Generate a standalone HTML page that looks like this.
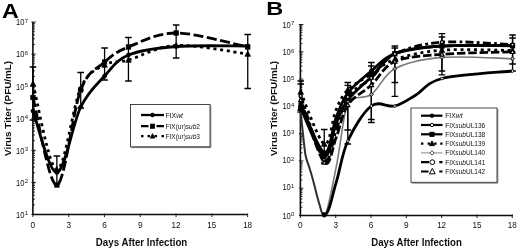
<!DOCTYPE html>
<html><head><meta charset="utf-8"><title>Virus Titer</title>
<style>
html,body{margin:0;padding:0;background:#fff;}
svg{display:block;font-family:"Liberation Sans",Arial,sans-serif;fill:#111;}
.b{font-weight:bold}
.i{font-style:italic}
</style></head><body>
<svg width="520" height="249" viewBox="0 0 520 249">
<defs><filter id="soft" x="0" y="0" width="520" height="249" filterUnits="userSpaceOnUse"><feGaussianBlur stdDeviation="0.45"/></filter></defs>
<rect x="-5" y="-5" width="530" height="259" fill="#fff"/>
<g filter="url(#soft)">
<text class="b" x="2" y="18" font-size="20" fill="#000" textLength="16.8" lengthAdjust="spacingAndGlyphs">A</text>
<path d="M32.9 22 V214.5 H247.7" stroke="#111" stroke-width="1.6" fill="none"/>
<path d="M31.4 214.5H35.9M32.9 204.84H34.9M32.9 199.19H34.9M32.9 195.18H34.9M32.9 192.07H34.9M32.9 189.53H34.9M32.9 187.39H34.9M32.9 185.53H34.9M32.9 183.88H34.9M31.4 182.42H35.9M32.9 172.76H34.9M32.9 167.11H34.9M32.9 163.1H34.9M32.9 159.99H34.9M32.9 157.45H34.9M32.9 155.3H34.9M32.9 153.44H34.9M32.9 151.8H34.9M31.4 150.33H35.9M32.9 140.68H34.9M32.9 135.03H34.9M32.9 131.02H34.9M32.9 127.91H34.9M32.9 125.37H34.9M32.9 123.22H34.9M32.9 121.36H34.9M32.9 119.72H34.9M31.4 118.25H35.9M32.9 108.59H34.9M32.9 102.94H34.9M32.9 98.93H34.9M32.9 95.82H34.9M32.9 93.28H34.9M32.9 91.14H34.9M32.9 89.28H34.9M32.9 87.63H34.9M31.4 86.17H35.9M32.9 76.51H34.9M32.9 70.86H34.9M32.9 66.85H34.9M32.9 63.74H34.9M32.9 61.2H34.9M32.9 59.05H34.9M32.9 57.19H34.9M32.9 55.55H34.9M31.4 54.08H35.9M32.9 44.43H34.9M32.9 38.78H34.9M32.9 34.77H34.9M32.9 31.66H34.9M32.9 29.12H34.9M32.9 26.97H34.9M32.9 25.11H34.9M32.9 23.47H34.9M31.4 22H35.9M32.9 213.5V217.1M68.69 213.5V217.1M104.48 213.5V217.1M140.27 213.5V217.1M176.06 213.5V217.1M211.85 213.5V217.1M247.64 213.5V217.1" stroke="#111" stroke-width="0.9" fill="none"/>
<text x="16.1" y="217.9" font-size="8.7" textLength="8.4" lengthAdjust="spacingAndGlyphs">10</text>
<text x="24.8" y="215.4" font-size="6" text-anchor="start">1</text>
<text x="16.1" y="185.82" font-size="8.7" textLength="8.4" lengthAdjust="spacingAndGlyphs">10</text>
<text x="24.8" y="183.32" font-size="6" text-anchor="start">2</text>
<text x="16.1" y="153.73" font-size="8.7" textLength="8.4" lengthAdjust="spacingAndGlyphs">10</text>
<text x="24.8" y="151.23" font-size="6" text-anchor="start">3</text>
<text x="16.1" y="121.65" font-size="8.7" textLength="8.4" lengthAdjust="spacingAndGlyphs">10</text>
<text x="24.8" y="119.15" font-size="6" text-anchor="start">4</text>
<text x="16.1" y="89.57" font-size="8.7" textLength="8.4" lengthAdjust="spacingAndGlyphs">10</text>
<text x="24.8" y="87.07" font-size="6" text-anchor="start">5</text>
<text x="16.1" y="57.48" font-size="8.7" textLength="8.4" lengthAdjust="spacingAndGlyphs">10</text>
<text x="24.8" y="54.98" font-size="6" text-anchor="start">6</text>
<text x="16.1" y="25.4" font-size="8.7" textLength="8.4" lengthAdjust="spacingAndGlyphs">10</text>
<text x="24.8" y="22.9" font-size="6" text-anchor="start">7</text>
<text x="32.9" y="228.3" font-size="9.2" text-anchor="middle" textLength="4.6" lengthAdjust="spacingAndGlyphs">0</text>
<text x="68.69" y="228.3" font-size="9.2" text-anchor="middle" textLength="4.6" lengthAdjust="spacingAndGlyphs">3</text>
<text x="104.48" y="228.3" font-size="9.2" text-anchor="middle" textLength="4.6" lengthAdjust="spacingAndGlyphs">6</text>
<text x="140.27" y="228.3" font-size="9.2" text-anchor="middle" textLength="4.6" lengthAdjust="spacingAndGlyphs">9</text>
<text x="176.06" y="228.3" font-size="9.2" text-anchor="middle" textLength="9" lengthAdjust="spacingAndGlyphs">12</text>
<text x="211.85" y="228.3" font-size="9.2" text-anchor="middle" textLength="9" lengthAdjust="spacingAndGlyphs">15</text>
<text x="247.64" y="228.3" font-size="9.2" text-anchor="middle" textLength="9" lengthAdjust="spacingAndGlyphs">18</text>
<text class="b" x="95.8" y="246.3" font-size="10.5" textLength="91.5" lengthAdjust="spacingAndGlyphs">Days After Infection</text>
<text class="b" transform="translate(10.7 108.4) rotate(-90)" font-size="9.9" text-anchor="middle">Virus Titer (PFU/mL)</text>
<path d="M33 67 V120 M29.7 67 H36.3 M29.7 120 H36.3" stroke="#000" stroke-width="1.3" fill="none"/>
<path d="M56.86 156 V184 M53.56 156 H60.16 M53.56 184 H60.16" stroke="#000" stroke-width="1.3" fill="none"/>
<path d="M80.72 72.5 V108 M77.42 72.5 H84.02 M77.42 108 H84.02" stroke="#000" stroke-width="1.3" fill="none"/>
<path d="M104.58 48 V80 M101.28 48 H107.88 M101.28 80 H107.88" stroke="#000" stroke-width="1.3" fill="none"/>
<path d="M128.44 37.5 V81 M125.14 37.5 H131.74 M125.14 81 H131.74" stroke="#000" stroke-width="1.3" fill="none"/>
<path d="M176.16 25 V58 M172.86 25 H179.46 M172.86 58 H179.46" stroke="#000" stroke-width="1.3" fill="none"/>
<path d="M247.74 34.5 V88.5 M244.44 34.5 H251.04 M244.44 88.5 H251.04" stroke="#000" stroke-width="1.3" fill="none"/>
<path d="M33 111 C36.98 121.25 48.91 173.17 56.86 172.5 C64.81 171.83 72.77 123.08 80.72 107 C88.67 90.92 96.63 84.67 104.58 76 C112.53 67.33 116.51 59.92 128.44 55 C140.37 50.08 156.28 48 176.16 46.5 C196.04 45 235.81 46.08 247.74 46" stroke="#000" stroke-width="2.8" fill="none" stroke-linejoin="round"/>
<path d="M33 97.5 C36.98 112.08 48.91 186.25 56.86 185 C64.81 183.75 72.77 110.5 80.72 90 C88.67 69.5 96.63 69.17 104.58 62 C112.53 54.83 116.51 51.83 128.44 47 C140.37 42.17 156.28 33 176.16 33 C196.04 33 235.81 44.67 247.74 47" stroke="#000" stroke-width="2.8" fill="none" stroke-dasharray="10 3.5"/>
<path d="M33 84 C36.98 98.25 48.91 168.83 56.86 169.5 C64.81 170.17 72.77 105.42 80.72 88 C88.67 70.58 96.63 69.67 104.58 65 C112.53 60.33 116.51 63.25 128.44 60 C140.37 56.75 156.28 46.5 176.16 45.5 C196.04 44.5 235.81 52.58 247.74 54" stroke="#000" stroke-width="2.8" fill="none" stroke-dasharray="3 3.7"/>
<circle cx="33" cy="111" r="2" fill="#000" stroke="#000" stroke-width="0.8"/>
<circle cx="56.86" cy="172.5" r="2" fill="#000" stroke="#000" stroke-width="0.8"/>
<circle cx="80.72" cy="107" r="2" fill="#000" stroke="#000" stroke-width="0.8"/>
<circle cx="104.58" cy="76" r="2" fill="#000" stroke="#000" stroke-width="0.8"/>
<circle cx="128.44" cy="55" r="2" fill="#000" stroke="#000" stroke-width="0.8"/>
<circle cx="176.16" cy="46.5" r="2" fill="#000" stroke="#000" stroke-width="0.8"/>
<circle cx="247.74" cy="46" r="2" fill="#000" stroke="#000" stroke-width="0.8"/>
<rect x="30.8" y="95.3" width="4.4" height="4.4" fill="#000" stroke="#000" stroke-width="0.8"/>
<rect x="54.66" y="182.8" width="4.4" height="4.4" fill="#000" stroke="#000" stroke-width="0.8"/>
<rect x="78.52" y="87.8" width="4.4" height="4.4" fill="#000" stroke="#000" stroke-width="0.8"/>
<rect x="102.38" y="59.8" width="4.4" height="4.4" fill="#000" stroke="#000" stroke-width="0.8"/>
<rect x="126.24" y="44.8" width="4.4" height="4.4" fill="#000" stroke="#000" stroke-width="0.8"/>
<rect x="173.96" y="30.8" width="4.4" height="4.4" fill="#000" stroke="#000" stroke-width="0.8"/>
<rect x="245.54" y="44.8" width="4.4" height="4.4" fill="#000" stroke="#000" stroke-width="0.8"/>
<path d="M33 81 L35.75 86.25 L30.25 86.25 Z" fill="#000" stroke="#000" stroke-width="0.8"/>
<path d="M56.86 166.5 L59.61 171.75 L54.11 171.75 Z" fill="#000" stroke="#000" stroke-width="0.8"/>
<path d="M80.72 85 L83.47 90.25 L77.97 90.25 Z" fill="#000" stroke="#000" stroke-width="0.8"/>
<path d="M104.58 62 L107.33 67.25 L101.83 67.25 Z" fill="#000" stroke="#000" stroke-width="0.8"/>
<path d="M128.44 57 L131.19 62.25 L125.69 62.25 Z" fill="#000" stroke="#000" stroke-width="0.8"/>
<path d="M176.16 42.5 L178.91 47.75 L173.41 47.75 Z" fill="#000" stroke="#000" stroke-width="0.8"/>
<path d="M247.74 51 L250.49 56.25 L244.99 56.25 Z" fill="#000" stroke="#000" stroke-width="0.8"/>
<path d="M131.3 147.6 H210.8 V105.5" fill="none" stroke="#777" stroke-width="1"/>
<rect x="130.5" y="104.5" width="79.5" height="42.3" fill="#fff" stroke="#333" stroke-width="0.9"/>
<path d="M141 115 H164" stroke="#000" stroke-width="2.3" fill="none"/>
<circle cx="152.5" cy="115" r="1.9" fill="#000" stroke="#000" stroke-width="0.8"/>
<text x="165.5" y="117.5" font-size="7" textLength="17.5" lengthAdjust="spacingAndGlyphs">FIX<tspan class="i">wt</tspan></text>
<path d="M141 126.2 H164" stroke="#000" stroke-width="2.3" stroke-dasharray="7.5 8 7.5 8" fill="none"/>
<rect x="150.4" y="124.1" width="4.2" height="4.2" fill="#000" stroke="#000" stroke-width="0.8"/>
<text x="165.5" y="128.7" font-size="7" textLength="34.5" lengthAdjust="spacingAndGlyphs">FIX(ur)<tspan class="i">sub</tspan>2</text>
<path d="M141 136.2 H164" stroke="#000" stroke-width="2.3" stroke-dasharray="2.5 4 2.5 4.5 2.5 4.5 2.5 9" fill="none"/>
<path d="M152.5 133.68 L154.81 138.09 L150.19 138.09 Z" fill="#000" stroke="#000" stroke-width="0.8"/>
<text x="165.5" y="138.7" font-size="7" textLength="34.5" lengthAdjust="spacingAndGlyphs">FIX(ur)<tspan class="i">sub</tspan>3</text>
<text class="b" x="266.3" y="15" font-size="19" fill="#000" textLength="17" lengthAdjust="spacingAndGlyphs">B</text>
<path d="M300.4 24.5 V215.5 H512.8" stroke="#111" stroke-width="1.6" fill="none"/>
<path d="M298.9 215.5H303.4M300.4 207.29H302.4M300.4 202.48H302.4M300.4 199.07H302.4M300.4 196.43H302.4M300.4 194.27H302.4M300.4 192.44H302.4M300.4 190.86H302.4M300.4 189.46H302.4M298.9 188.21H303.4M300.4 180H302.4M300.4 175.2H302.4M300.4 171.79H302.4M300.4 169.14H302.4M300.4 166.98H302.4M300.4 165.16H302.4M300.4 163.57H302.4M300.4 162.18H302.4M298.9 160.93H303.4M300.4 152.71H302.4M300.4 147.91H302.4M300.4 144.5H302.4M300.4 141.86H302.4M300.4 139.7H302.4M300.4 137.87H302.4M300.4 136.29H302.4M300.4 134.89H302.4M298.9 133.64H303.4M300.4 125.43H302.4M300.4 120.62H302.4M300.4 117.22H302.4M300.4 114.57H302.4M300.4 112.41H302.4M300.4 110.58H302.4M300.4 109H302.4M300.4 107.61H302.4M298.9 106.36H303.4M300.4 98.14H302.4M300.4 93.34H302.4M300.4 89.93H302.4M300.4 87.29H302.4M300.4 85.12H302.4M300.4 83.3H302.4M300.4 81.72H302.4M300.4 80.32H302.4M298.9 79.07H303.4M300.4 70.86H302.4M300.4 66.05H302.4M300.4 62.64H302.4M300.4 60H302.4M300.4 57.84H302.4M300.4 56.01H302.4M300.4 54.43H302.4M300.4 53.03H302.4M298.9 51.79H303.4M300.4 43.57H302.4M300.4 38.77H302.4M300.4 35.36H302.4M300.4 32.71H302.4M300.4 30.55H302.4M300.4 28.73H302.4M300.4 27.14H302.4M300.4 25.75H302.4M298.9 24.5H303.4M300.4 214.5V218.1M335.71 214.5V218.1M371.02 214.5V218.1M406.33 214.5V218.1M441.64 214.5V218.1M476.95 214.5V218.1M512.26 214.5V218.1" stroke="#111" stroke-width="0.9" fill="none"/>
<text x="282.4" y="218.6" font-size="8.7" textLength="8.4" lengthAdjust="spacingAndGlyphs">10</text>
<text x="291.1" y="216.1" font-size="6" text-anchor="start">0</text>
<text x="282.4" y="190.11" font-size="8.7" textLength="8.4" lengthAdjust="spacingAndGlyphs">10</text>
<text x="291.1" y="187.61" font-size="6" text-anchor="start">1</text>
<text x="282.4" y="163.33" font-size="8.7" textLength="8.4" lengthAdjust="spacingAndGlyphs">10</text>
<text x="291.1" y="160.83" font-size="6" text-anchor="start">2</text>
<text x="282.4" y="136.34" font-size="8.7" textLength="8.4" lengthAdjust="spacingAndGlyphs">10</text>
<text x="291.1" y="133.84" font-size="6" text-anchor="start">3</text>
<text x="282.4" y="109.46" font-size="8.7" textLength="8.4" lengthAdjust="spacingAndGlyphs">10</text>
<text x="291.1" y="106.96" font-size="6" text-anchor="start">4</text>
<text x="282.4" y="82.47" font-size="8.7" textLength="8.4" lengthAdjust="spacingAndGlyphs">10</text>
<text x="291.1" y="79.97" font-size="6" text-anchor="start">5</text>
<text x="282.4" y="55.19" font-size="8.7" textLength="8.4" lengthAdjust="spacingAndGlyphs">10</text>
<text x="291.1" y="52.69" font-size="6" text-anchor="start">6</text>
<text x="282.4" y="27.9" font-size="8.7" textLength="8.4" lengthAdjust="spacingAndGlyphs">10</text>
<text x="291.1" y="25.4" font-size="6" text-anchor="start">7</text>
<text x="300.4" y="227.8" font-size="9.2" text-anchor="middle" textLength="4.6" lengthAdjust="spacingAndGlyphs">0</text>
<text x="335.71" y="227.8" font-size="9.2" text-anchor="middle" textLength="4.6" lengthAdjust="spacingAndGlyphs">3</text>
<text x="371.02" y="227.8" font-size="9.2" text-anchor="middle" textLength="4.6" lengthAdjust="spacingAndGlyphs">6</text>
<text x="406.33" y="227.8" font-size="9.2" text-anchor="middle" textLength="4.6" lengthAdjust="spacingAndGlyphs">9</text>
<text x="441.64" y="227.8" font-size="9.2" text-anchor="middle" textLength="9" lengthAdjust="spacingAndGlyphs">12</text>
<text x="476.95" y="227.8" font-size="9.2" text-anchor="middle" textLength="9" lengthAdjust="spacingAndGlyphs">15</text>
<text x="512.26" y="227.8" font-size="9.2" text-anchor="middle" textLength="9" lengthAdjust="spacingAndGlyphs">18</text>
<text class="b" x="371.3" y="246.2" font-size="10.5" textLength="90.5" lengthAdjust="spacingAndGlyphs">Days After Infection</text>
<text class="b" transform="translate(276.7 108.5) rotate(-90)" font-size="9.9" text-anchor="middle">Virus Titer (PFU/mL)</text>
<path d="M300.7 81 V112 M297.4 81 H304 M297.4 112 H304" stroke="#000" stroke-width="1.3" fill="none"/>
<path d="M300.7 84 V110 M297.4 84 H304 M297.4 110 H304" stroke="#000" stroke-width="1.3" fill="none"/>
<path d="M324.24 129.5 V163 M320.94 129.5 H327.54 M320.94 163 H327.54" stroke="#000" stroke-width="1.3" fill="none"/>
<path d="M347.78 82.5 V144 M344.48 82.5 H351.08 M344.48 144 H351.08" stroke="#000" stroke-width="1.3" fill="none"/>
<path d="M347.78 85.4 V130 M344.48 85.4 H351.08 M344.48 130 H351.08" stroke="#000" stroke-width="1.3" fill="none"/>
<path d="M371.32 62.5 V119.5 M368.02 62.5 H374.62 M368.02 119.5 H374.62" stroke="#000" stroke-width="1.3" fill="none"/>
<path d="M371.32 66 V122.5 M368.02 66 H374.62 M368.02 122.5 H374.62" stroke="#000" stroke-width="1.3" fill="none"/>
<path d="M394.86 46 V82.5 M391.56 46 H398.16 M391.56 82.5 H398.16" stroke="#000" stroke-width="1.3" fill="none"/>
<path d="M394.86 48 V96.3 M391.56 48 H398.16 M391.56 96.3 H398.16" stroke="#000" stroke-width="1.3" fill="none"/>
<path d="M441.94 33.7 V71 M438.64 33.7 H445.24 M438.64 71 H445.24" stroke="#000" stroke-width="1.3" fill="none"/>
<path d="M441.94 37 V74.8 M438.64 37 H445.24 M438.64 74.8 H445.24" stroke="#000" stroke-width="1.3" fill="none"/>
<path d="M512.56 35 V71 M509.26 35 H515.86 M509.26 71 H515.86" stroke="#000" stroke-width="1.3" fill="none"/>
<path d="M512.56 38 V64 M509.26 38 H515.86 M509.26 64 H515.86" stroke="#000" stroke-width="1.3" fill="none"/>
<path d="M324.24 215 C327.44 215 332.09 186.83 336.01 168 C339.93 149.17 344.25 109.35 347.78 102 C351.31 94.65 363.47 100.04 371.32 94.5 C379.17 88.96 383.09 74.93 394.86 68.75 C406.63 62.57 422.32 59.07 441.94 57.4 C461.56 55.73 500.79 58.52 512.56 58.75" stroke="#7a7a7a" stroke-width="1.6" fill="none"/>
<path d="M300.7 112 C300.97 114.58 301.5 120.33 302.3 127.5 C303.1 134.67 304.3 148.25 305.5 155 C306.7 161.75 308.25 163.83 309.5 168 C310.75 172.17 311.33 173.92 313 180 C314.67 186.08 317.63 198.67 319.5 204.5 C321.37 210.33 321.24 214.5 324.24 215" stroke="#2e2e2e" stroke-width="2" fill="none"/>
<path d="M324.24 215 C329.24 215 332.09 195.33 336.01 183 C339.93 170.67 341.89 153.83 347.78 141 C353.66 128.17 363.47 111.83 371.32 106 C379.17 100.17 387.5 107.78 394.86 106 C402.22 104.22 407.65 99.88 415.5 95.3 C423.35 90.72 425.76 82.55 441.94 78.5 C458.12 74.45 500.79 72.25 512.56 71" stroke="#000" stroke-width="2.8" fill="none"/>
<path d="M300.7 108 C304.62 116 318.36 153.33 324.24 156 C330.12 158.67 332.09 133.33 336.01 124 C339.93 114.67 341.89 107.83 347.78 100 C353.66 92.17 363.47 84.7 371.32 77 C379.17 69.3 383.09 58.95 394.86 53.8 C406.63 48.65 422.32 47.43 441.94 46.1 C461.56 44.77 500.79 45.85 512.56 45.8" stroke="#000" stroke-width="2.8" fill="none"/>
<path d="M300.7 104 C304.62 112.08 318.36 150.17 324.24 152.5 C330.12 154.83 332.09 127.92 336.01 118 C339.93 108.08 341.89 100.83 347.78 93 C353.66 85.17 363.47 77.58 371.32 71 C379.17 64.42 383.09 57.67 394.86 53.5 C406.63 49.33 422.32 47.32 441.94 46 C461.56 44.68 500.79 45.67 512.56 45.6" stroke="#000" stroke-width="2.8" fill="none"/>
<path d="M300.7 92 C304.62 100.67 318.36 141 324.24 144 C330.12 147 332.09 119 336.01 110 C339.93 101 341.89 96 347.78 90 C353.66 84 363.47 79.08 371.32 74 C379.17 68.92 383.09 63.47 394.86 59.5 C406.63 55.53 422.32 51.7 441.94 50.2 C461.56 48.7 500.79 50.45 512.56 50.5" stroke="#000" stroke-width="2.8" fill="none" stroke-dasharray="3 3.7"/>
<path d="M300.7 96 C304.62 106.67 318.36 154.17 324.24 160 C330.12 165.83 332.09 141.5 336.01 131 C339.93 120.5 341.89 105.83 347.78 97 C353.66 88.17 363.47 85.17 371.32 78 C379.17 70.83 383.09 59.97 394.86 54 C406.63 48.03 422.32 43.77 441.94 42.2 C461.56 40.63 500.79 44.2 512.56 44.6" stroke="#000" stroke-width="2.8" fill="none" stroke-dasharray="8 3.2 2.8 3.2"/>
<path d="M300.7 100 C304.62 110.42 318.36 156.17 324.24 162.5 C330.12 168.83 332.09 147.58 336.01 138 C339.93 128.42 341.89 113.83 347.78 105 C353.66 96.17 363.47 92.25 371.32 85 C379.17 77.75 383.09 66.62 394.86 61.5 C406.63 56.38 422.32 55.92 441.94 54.3 C461.56 52.68 500.79 52.22 512.56 51.8" stroke="#000" stroke-width="2.8" fill="none" stroke-dasharray="8.5 2.8"/>
<circle cx="300.7" cy="104" r="2" fill="#000" stroke="#000" stroke-width="0.8"/>
<circle cx="324.24" cy="152.5" r="2" fill="#000" stroke="#000" stroke-width="0.8"/>
<circle cx="347.78" cy="93" r="2" fill="#000" stroke="#000" stroke-width="0.8"/>
<circle cx="371.32" cy="71" r="2" fill="#000" stroke="#000" stroke-width="0.8"/>
<circle cx="394.86" cy="53.5" r="2" fill="#000" stroke="#000" stroke-width="0.8"/>
<circle cx="441.94" cy="46" r="2" fill="#000" stroke="#000" stroke-width="0.8"/>
<circle cx="512.56" cy="45.6" r="2" fill="#000" stroke="#000" stroke-width="0.8"/>
<rect x="298.5" y="105.8" width="4.4" height="4.4" fill="#000" stroke="#000" stroke-width="0.8"/>
<rect x="322.04" y="153.8" width="4.4" height="4.4" fill="#000" stroke="#000" stroke-width="0.8"/>
<rect x="345.58" y="97.8" width="4.4" height="4.4" fill="#000" stroke="#000" stroke-width="0.8"/>
<rect x="369.12" y="74.8" width="4.4" height="4.4" fill="#000" stroke="#000" stroke-width="0.8"/>
<rect x="392.66" y="51.6" width="4.4" height="4.4" fill="#000" stroke="#000" stroke-width="0.8"/>
<rect x="439.74" y="43.9" width="4.4" height="4.4" fill="#000" stroke="#000" stroke-width="0.8"/>
<rect x="510.36" y="43.6" width="4.4" height="4.4" fill="#000" stroke="#000" stroke-width="0.8"/>
<path d="M300.7 89 L303.45 94.25 L297.95 94.25 Z" fill="#000" stroke="#000" stroke-width="0.8"/>
<path d="M324.24 141 L326.99 146.25 L321.49 146.25 Z" fill="#000" stroke="#000" stroke-width="0.8"/>
<path d="M347.78 87 L350.53 92.25 L345.03 92.25 Z" fill="#000" stroke="#000" stroke-width="0.8"/>
<path d="M371.32 71 L374.07 76.25 L368.57 76.25 Z" fill="#000" stroke="#000" stroke-width="0.8"/>
<path d="M394.86 56.5 L397.61 61.75 L392.11 61.75 Z" fill="#000" stroke="#000" stroke-width="0.8"/>
<path d="M441.94 47.2 L444.69 52.45 L439.19 52.45 Z" fill="#000" stroke="#000" stroke-width="0.8"/>
<path d="M512.56 47.5 L515.31 52.75 L509.81 52.75 Z" fill="#000" stroke="#000" stroke-width="0.8"/>
<circle cx="347.78" cy="141" r="1.3" fill="#fff" stroke="#000" stroke-width="0.8"/>
<circle cx="371.32" cy="106" r="1.3" fill="#fff" stroke="#000" stroke-width="0.8"/>
<circle cx="394.86" cy="106" r="1.3" fill="#fff" stroke="#000" stroke-width="0.8"/>
<circle cx="441.94" cy="78.5" r="1.3" fill="#fff" stroke="#000" stroke-width="0.8"/>
<circle cx="512.56" cy="71" r="1.3" fill="#fff" stroke="#000" stroke-width="0.8"/>
<path d="M347.78 99.96 L349.65 102 L347.78 104.04 L345.91 102 Z" fill="#aaa" stroke="#111" stroke-width="1"/>
<path d="M371.32 92.46 L373.19 94.5 L371.32 96.54 L369.45 94.5 Z" fill="#aaa" stroke="#111" stroke-width="1"/>
<path d="M394.86 66.71 L396.73 68.75 L394.86 70.79 L392.99 68.75 Z" fill="#aaa" stroke="#111" stroke-width="1"/>
<path d="M441.94 55.36 L443.81 57.4 L441.94 59.44 L440.07 57.4 Z" fill="#aaa" stroke="#111" stroke-width="1"/>
<path d="M512.56 56.71 L514.43 58.75 L512.56 60.79 L510.69 58.75 Z" fill="#aaa" stroke="#111" stroke-width="1"/>
<circle cx="300.7" cy="96" r="1.6" fill="#ddd" stroke="#000" stroke-width="1.3"/>
<circle cx="324.24" cy="160" r="1.6" fill="#ddd" stroke="#000" stroke-width="1.3"/>
<circle cx="347.78" cy="97" r="1.6" fill="#ddd" stroke="#000" stroke-width="1.3"/>
<circle cx="371.32" cy="78" r="1.6" fill="#ddd" stroke="#000" stroke-width="1.3"/>
<circle cx="394.86" cy="54" r="1.6" fill="#ddd" stroke="#000" stroke-width="1.3"/>
<circle cx="441.94" cy="42.2" r="1.6" fill="#ddd" stroke="#000" stroke-width="1.3"/>
<circle cx="512.56" cy="44.6" r="1.6" fill="#ddd" stroke="#000" stroke-width="1.3"/>
<path d="M300.7 97.72 L302.79 101.71 L298.61 101.71 Z" fill="#ddd" stroke="#000" stroke-width="1.2"/>
<path d="M324.24 160.22 L326.33 164.21 L322.15 164.21 Z" fill="#ddd" stroke="#000" stroke-width="1.2"/>
<path d="M347.78 102.72 L349.87 106.71 L345.69 106.71 Z" fill="#ddd" stroke="#000" stroke-width="1.2"/>
<path d="M371.32 82.72 L373.41 86.71 L369.23 86.71 Z" fill="#ddd" stroke="#000" stroke-width="1.2"/>
<path d="M394.86 59.22 L396.95 63.21 L392.77 63.21 Z" fill="#ddd" stroke="#000" stroke-width="1.2"/>
<path d="M441.94 52.02 L444.03 56.01 L439.85 56.01 Z" fill="#ddd" stroke="#000" stroke-width="1.2"/>
<path d="M512.56 49.52 L514.65 53.51 L510.47 53.51 Z" fill="#ddd" stroke="#000" stroke-width="1.2"/>
<circle cx="324.24" cy="214.8" r="2.3" fill="#000" stroke="#000" stroke-width="0.8"/>
<path d="M411.8 183.1 H497.8 V109" fill="none" stroke="#777" stroke-width="1"/>
<rect x="411" y="108" width="86" height="74.3" fill="#fff" stroke="#333" stroke-width="0.9"/>
<path d="M421 115.7 H442.5" stroke="#000" stroke-width="2.2" fill="none"/>
<circle cx="432" cy="115.7" r="1.8" fill="#000" stroke="#000" stroke-width="0.8"/>
<text x="445.2" y="118.2" font-size="7" textLength="17.5" lengthAdjust="spacingAndGlyphs">FIX<tspan class="i">wt</tspan></text>
<path d="M421 125 H442.5" stroke="#000" stroke-width="2.2" fill="none"/>
<circle cx="432" cy="125" r="1.7" fill="#fff" stroke="#000" stroke-width="1"/>
<text x="445.2" y="127.5" font-size="7" textLength="40" lengthAdjust="spacingAndGlyphs">FIX<tspan class="i">sub</tspan>UL136</text>
<path d="M421 134.3 H442.5" stroke="#000" stroke-width="2.2" fill="none"/>
<rect x="429.9" y="132.2" width="4.2" height="4.2" fill="#000" stroke="#000" stroke-width="0.8"/>
<text x="445.2" y="136.8" font-size="7" textLength="40" lengthAdjust="spacingAndGlyphs">FIX<tspan class="i">sub</tspan>UL138</text>
<path d="M421 143.6 H442.5" stroke="#000" stroke-width="2.2" stroke-dasharray="2.4 4.2 2.4 4.2 2.4 3.7 2.2 9" fill="none"/>
<path d="M432 140.84 L434.53 145.67 L429.47 145.67 Z" fill="#000" stroke="#000" stroke-width="0.8"/>
<text x="445.2" y="146.1" font-size="7" textLength="40" lengthAdjust="spacingAndGlyphs">FIX<tspan class="i">sub</tspan>UL139</text>
<path d="M421 152.9 H442.5" stroke="#888" stroke-width="1" fill="none"/>
<path d="M432 150.74 L433.98 152.9 L432 155.06 L430.02 152.9 Z" fill="#fff" stroke="#222" stroke-width="0.8"/>
<text x="445.2" y="155.4" font-size="7" textLength="40" lengthAdjust="spacingAndGlyphs">FIX<tspan class="i">sub</tspan>UL140</text>
<path d="M421 162.2 H442.5" stroke="#000" stroke-width="2.2" stroke-dasharray="8 10.3 3.2 9" fill="none"/>
<circle cx="432.3" cy="162.2" r="2.4" fill="#fff" stroke="#000" stroke-width="1"/>
<text x="445.2" y="164.7" font-size="7" textLength="40" lengthAdjust="spacingAndGlyphs">FIX<tspan class="i">sub</tspan>UL141</text>
<path d="M421 171.5 H442.5" stroke="#000" stroke-width="2.2" stroke-dasharray="7.5 10.8 3.2 9" fill="none"/>
<path d="M432.3 168.38 L435.16 173.84 L429.44 173.84 Z" fill="#fff" stroke="#000" stroke-width="1"/>
<text x="445.2" y="174" font-size="7" textLength="40" lengthAdjust="spacingAndGlyphs">FIX<tspan class="i">sub</tspan>UL142</text>
</g></svg></body></html>
